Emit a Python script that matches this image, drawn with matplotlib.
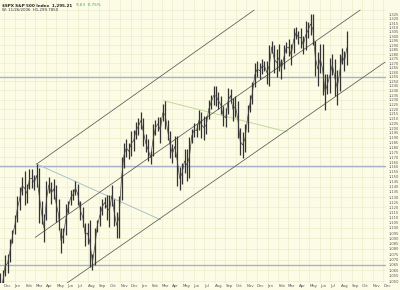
import matplotlib
matplotlib.use('Agg')
import matplotlib.pyplot as plt
import matplotlib.dates as mdates
from matplotlib.ticker import FixedLocator, NullLocator, FuncFormatter
import numpy as np
import pandas as pd

# weekly bars (week ending Friday)
lows_2003 = [1031, 1040, 1055, 1058, 1068, 1086]
highs_2003 = [1058, 1060, 1074, 1075, 1089, 1098]
lows_2004 = [1094, 1106, 1117, 1132, 1122, 1124, 1138, 1139, 1137, 1140, 1105, 1104, 1087,
             1108, 1134, 1123, 1128, 1106, 1098, 1076, 1086, 1093, 1114, 1122, 1127, 1132,
             1122, 1108, 1101, 1083, 1085, 1063, 1060, 1065, 1096, 1102, 1112, 1119, 1108,
             1101, 1121, 1102, 1090, 1090, 1127, 1159, 1170, 1168, 1171, 1176, 1189, 1193, 1199]
highs_2004 = [1112, 1131, 1140, 1150, 1156, 1143, 1158, 1158, 1152, 1163, 1159, 1126, 1113,
              1146, 1150, 1145, 1148, 1142, 1128, 1100, 1100, 1123, 1126, 1137, 1138, 1146,
              1143, 1126, 1120, 1105, 1105, 1108, 1075, 1100, 1108, 1121, 1128, 1130, 1132,
              1132, 1142, 1128, 1115, 1131, 1170, 1185, 1189, 1184, 1197, 1198, 1206, 1211, 1217]
lows_2005 = [1181, 1175, 1166, 1163, 1171, 1193, 1197, 1184, 1207, 1199, 1188, 1169, 1164,
             1170, 1141, 1137, 1143, 1154, 1146, 1149, 1185, 1191, 1191, 1198, 1190, 1188,
             1194, 1210, 1220, 1224, 1223, 1220, 1215, 1202, 1201, 1215, 1227, 1207, 1212,
             1190, 1172, 1169, 1175, 1196, 1217, 1225, 1244, 1255, 1253, 1258, 1261, 1247]
highs_2005 = [1211, 1194, 1189, 1176, 1204, 1208, 1212, 1212, 1225, 1229, 1208, 1197, 1183,
              1192, 1192, 1160, 1164, 1178, 1178, 1191, 1199, 1205, 1204, 1219, 1217, 1213,
              1213, 1230, 1235, 1245, 1245, 1238, 1234, 1223, 1221, 1243, 1242, 1232, 1234,
              1229, 1200, 1196, 1204, 1224, 1235, 1249, 1270, 1272, 1270, 1275, 1272, 1272]
lows_2006 = [1245, 1281, 1259, 1255, 1261, 1253, 1263, 1281, 1278, 1268, 1281, 1297, 1291,
             1287, 1280, 1285, 1298, 1302, 1290, 1256, 1245, 1259, 1235, 1219, 1236, 1237,
             1257, 1234, 1224, 1239, 1269, 1261, 1268]
highs_2006 = [1290, 1295, 1290, 1286, 1291, 1275, 1290, 1294, 1297, 1291, 1310, 1311, 1306,
              1310, 1300, 1318, 1316, 1326, 1326, 1295, 1282, 1291, 1291, 1258, 1258, 1276,
              1280, 1274, 1262, 1280, 1287, 1283, 1306]

week_lows = lows_2003 + lows_2004 + lows_2005 + lows_2006
week_highs = highs_2003 + highs_2004 + highs_2005 + highs_2006
weeks = pd.date_range('2003-11-21', periods=len(week_lows), freq='W-FRI')

# support / resistance levels
levels = [1065, 1161, 1255]

# channel lines (start date, start value, end date, end value)
channels = [
    ('2004-03-05', 1163, '2005-11-23', 1330),
    ('2004-03-01', 1091, '2006-09-25', 1330),
    ('2004-05-30', 1048, '2006-12-06', 1271),
]
fans = [
    ('2004-03-05', 1163, '2005-02-25', 1108, '#a9c3c9'),
    ('2005-03-07', 1229, '2006-02-27', 1196, '#c4d89a'),
]

y_ticks = list(range(1050, 1330, 5))
y_grid = list(range(1050, 1340, 10))
months = pd.date_range('2003-12-01', '2006-12-01', freq='MS')

bg = '#fcfce6'
fig = plt.figure(figsize=(4, 2.9), dpi=100, facecolor=bg)
ax = fig.add_axes([0, 7 / 290, 386 / 400, 283 / 290])
ax.set_facecolor(bg)
ax.set_yscale('log')

for g in y_grid:
    ax.axhline(g, color='#ebebcc', lw=0.5, zorder=0)
for m in months:
    ax.axvline(m, color='#ebebcc', lw=0.5, zorder=0)

for lv in levels:
    ax.axhline(lv, color='#a9b2c8', lw=1.0, zorder=1)

for d0, v0, d1, v1 in channels:
    ax.plot([pd.Timestamp(d0), pd.Timestamp(d1)], [v0, v1], color='#5a5a5a', lw=0.55, zorder=3)
for d0, v0, d1, v1, c in fans:
    ax.plot([pd.Timestamp(d0), pd.Timestamp(d1)], [v0, v1], color=c, lw=0.7, zorder=2)

mids = [(lo + hi) / 2 for lo, hi in zip(week_lows, week_highs)]
ax.vlines(weeks, week_lows, week_highs, color='#333333', lw=0.9, zorder=4)
ax.plot(weeks, mids, color='#444444', lw=0.5, zorder=4)

ax.set_xlim(pd.Timestamp('2003-11-20'), pd.Timestamp('2006-12-09'))
ax.set_ylim(1048.4, 1341.8)

ax.yaxis.tick_right()
ax.yaxis.set_major_locator(FixedLocator(y_ticks))
ax.yaxis.set_minor_locator(NullLocator())
ax.yaxis.set_major_formatter(FuncFormatter(lambda v, p: f'{v:,.0f}'))
ax.tick_params(axis='y', length=0, pad=2, labelsize=2.6, labelcolor='#555555')

ax.xaxis.set_major_locator(FixedLocator(mdates.date2num(months)))
ax.xaxis.set_major_formatter(FuncFormatter(lambda v, p: mdates.num2date(v).strftime('%b')))
ax.tick_params(axis='x', length=0, pad=1, labelsize=2.8, labelcolor='#555555')
for lab in ax.get_xticklabels():
    lab.set_horizontalalignment('left')

for s in ax.spines.values():
    s.set_visible(False)

fig.text(0.005, 0.988, '$SPX S&P 500 Index  1,295.21', fontsize=3.0, weight='bold',
         color='#222222', va='top')
fig.text(0.19, 0.988, '9.63  0.75%', fontsize=3.0, color='#33aa44', va='top')
fig.text(0.005, 0.973, 'W: 11/26/2006  H1,299.7850', fontsize=2.8, color='#333333', va='top')

fig.savefig('out.png', dpi=100, facecolor=bg)
